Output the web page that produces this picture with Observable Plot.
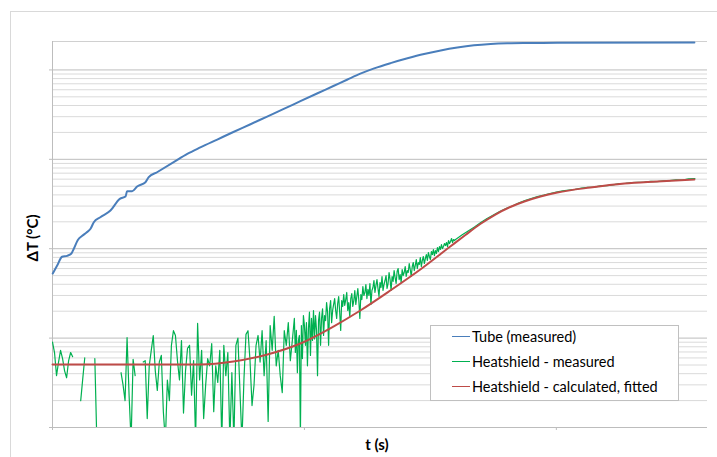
<!DOCTYPE html>
<html><head><meta charset="utf-8">
<script src="https://cdn.jsdelivr.net/npm/d3@7"></script>
<script src="https://cdn.jsdelivr.net/npm/@observablehq/plot@0.6"></script>
<style>
html,body{margin:0;padding:0;background:#fff;}
#wrap{position:relative;width:717px;height:457px;overflow:hidden;font-family:Lato,"Open Sans",sans-serif;}
#border{position:absolute;left:10px;top:11px;width:800px;height:600px;border-top:1px solid #d9d9d9;border-left:1px solid #d9d9d9;}
#chart{position:absolute;left:0;top:0;}
#legend{position:absolute;left:430px;top:325px;width:247px;height:74px;border:1px solid #c0c0c0;background:#fff;}
.item{position:absolute;left:21px;height:20px;display:flex;align-items:center;font-size:14.5px;color:#000;white-space:nowrap;}
.sw{display:inline-block;width:18px;height:0;border-top:1.5px solid;margin-right:2px;}
.title{position:absolute;font-weight:bold;font-size:15px;color:#000;white-space:nowrap;line-height:20px;height:20px;text-align:center;width:120px;}
#ytitle{left:-28px;top:228px;transform:rotate(-90deg);}
#xtitle{left:317px;top:434px;}
</style></head><body>
<div id="wrap"><div id="border"></div><div id="chart"></div><div id="legend"></div>
<div id="ytitle" class="title"></div><div id="xtitle" class="title"></div></div>
<script>
// ---- data ----
const xTitle = "t (s)";
const yTitle = "ΔT (°C)";
const seriesNames = ["Tube (measured)", "Heatshield - measured", "Heatshield - calculated, fitted"];
const seriesColors = ["#4a7ebb", "#00b050", "#be4b48"];

const xTicks = [0, 1000, 2000];
const xDomain = [0, 2600];
const yDomain = [0.01, 208];
const majorGrid = [0.01, 0.1, 1, 10, 100];
const minorGrid = [0.02,0.03,0.04,0.05,0.06,0.07,0.08,0.09,
                   0.2,0.3,0.4,0.5,0.6,0.7,0.8,0.9,
                   2,3,4,5,6,7,8,9,
                   20,30,40,50,60,70,80,90];

// Tube (measured)
const tubeT = [1,18,38,58,75,85,100,118,135,151,164,190,230,267,290,296,316,336,369,382,415,481,535,587,654,718,786,852,918,984,1050,1115,1169,1222,1277,1342,1409,1475,1541,1607,1673,1739,1805,1871,2004,2548];
const tubeV = [0.528,0.644,0.812,0.833,0.884,1.005,1.245,1.394,1.517,1.67,1.98,2.25,2.67,3.61,3.84,4.40,4.40,4.96,5.54,6.31,7.17,9.28,11.5,13.6,16.65,20.2,24.7,30.1,36.6,44.7,54.5,66.1,77.7,90.9,104.2,119.2,134.9,150.6,165.2,178.1,188.5,194.9,198.5,200.0,201.0,202.6];

// Heatshield - calculated, fitted
const fitT = [0,300,587,718,853,984,1115,1222,1341,1460,1579,1639,1698,1758,1817,1873,1937,2004,2135,2270,2401,2548];
const fitV = [0.0507,0.0507,0.0507,0.0547,0.0656,0.0871,0.1348,0.2036,0.3407,0.5853,1.058,1.423,1.889,2.413,2.927,3.373,3.836,4.253,4.837,5.362,5.645,5.943];

// Heatshield - measured (null = not plottable on the log axis)
// part A: every 8 s from t = 0
const measAStart = 0, measAStep = 8;
const measA = [
 0.090,0.069,0.038,0.054,0.073,0.059,0.043,0.036,0.056,0.069,0.062,
 null,null,null,
 0.020,0.035,0.060,
 null,null,null,null,
 0.059,0.007,
 null,null,null,null,null,null,null,null,null,null,null,
 0.041,0.030,0.020,0.101,0.023,0.007,0.058,0.038,
 null,null,null,
 0.054,0.056,0.0126,0.049,0.073,0.107,0.043,0.026,0.054,0.064,0.015,0.007,0.034,0.020,0.083,
 0.121,0.107,0.056,0.034,0.094,0.0145,0.043,0.077,0.083,0.023,0.056,0.007,0.146,0.034,0.073,0.0126,0.030,0.059,0.049,0.087,
 0.015,0.049,0.032,0.073,0.007,0.083,0.038,0.069,0.007,0.041,0.007,0.083,0.100,0.026,0.007,0.035,0.110,0.121,0.056,0.0176,
 0.030,0.083,0.107,0.054,0.121,0.038,0.094,0.0117,0.138,0.073,0.175,0.049,0.073,0.038,0.0246,0.121,0.083,0.149,0.056,0.094
];
// part B: every 4 s from t = 960
const measBStart = 960, measBStep = 4;
const measB = [
 0.166,0.069,0.122,0.041,0.094,0.107,0.008,0.138,0.059,0.179,
 0.138,0.083,0.149,0.049,0.128,0.195,0.064,0.166,0.094,0.203,
 0.098,0.179,0.122,0.038,0.157,0.195,0.083,0.166,0.213,0.107,
 0.179,0.157,0.250,0.193,0.083,0.214,0.263,0.149,0.204,0.238,
 0.277,0.204,0.166,0.244,0.292,0.193,0.122,0.263,0.226,0.307,
 0.232,0.270,0.324,0.204,0.250,0.174,0.277,0.315,0.226,0.263,
 0.341,0.238,0.292,0.359,0.263,0.166,0.307,0.270,0.378,0.300,
 0.324,0.398,0.277,0.350,0.300,0.408,0.238,0.341,0.368,0.441,
 0.324,0.388,0.452,0.359,0.292,0.419,0.368,0.489,0.341,0.398,
 0.441,0.501,0.359,0.408,0.542,0.452,0.341,0.489,0.430,0.570,
 0.476,0.408,0.556,0.600,0.452,0.514,0.419,0.585,0.501,0.542,
 0.632,0.489,0.570,0.542,0.683,0.585,0.489,0.632,0.701,0.570,
 0.649,0.757,0.600,0.701,0.666,0.797,0.632,0.738,0.818,0.683,
 0.777,0.861,0.738,0.907,0.818,0.757,0.930,0.861,0.980,0.839,
 0.955,0.884,1.031,0.930,1.058,0.980,1.114,1.005,1.058,1.143,
 1.086,1.173,1.058,1.235,1.143,1.204,1.301,1.173,1.268,1.235
];
// part C: every 25 s from t = 1600
const measCStart = 1600, measCStep = 25;
const measC = [1.27,1.42,1.58,1.75,1.96,2.18,2.38,2.61,2.82,3.00,3.24,3.46,3.64,3.84,3.98,4.15,4.31,4.43,4.52,4.61,4.76,4.85,4.89,5.04,5.08,5.17,5.34,5.37,5.49,5.52,5.56,5.66,5.63,5.74,5.79,5.89,5.85,6.04,6.10];

// ---- build tables ----
const tube = tubeT.map((t, i) => ({t, v: tubeV[i]}));
const fit = fitT.map((t, i) => ({t, v: fitV[i]}));
const meas = [
  ...measA.map((v, i) => ({t: measAStart + i * measAStep, v})),
  ...measB.map((v, i) => ({t: measBStart + i * measBStep, v})),
  ...measC.map((v, i) => ({t: measCStart + i * measCStep, v}))
];

const chart = Plot.plot({
  width: 717, height: 457,
  marginLeft: 52, marginRight: 10, marginTop: 41, marginBottom: 30,
  style: {fontFamily: "Lato, 'Open Sans', sans-serif", background: "transparent", overflow: "visible", color: "#000"},
  x: {domain: xDomain},
  y: {type: "log", domain: yDomain},
  marks: [
    Plot.ruleY(minorGrid, {stroke: "#dadada", strokeWidth: 1}),
    Plot.ruleY(majorGrid, {stroke: "#bdbdbd", strokeWidth: 1}),
    Plot.ruleY([yDomain[1]], {stroke: "#d0d0d0", strokeWidth: 1}),
    Plot.ruleX([xDomain[0]], {stroke: "#bdbdbd", strokeWidth: 1}),
    Plot.axisY({ticks: majorGrid, tickSize: 3, tickFormat: () => "", stroke: "#bdbdbd", label: null}),
    Plot.axisX({ticks: xTicks, tickSize: 3, tickFormat: () => "", stroke: "#bdbdbd", label: null}),
    Plot.line(tube, {x: "t", y: "v", stroke: seriesColors[0], strokeWidth: 2, curve: "monotone-x"}),
    Plot.line(meas, {x: "t", y: "v", stroke: seriesColors[1], strokeWidth: 1.2, clip: true}),
    Plot.line(fit, {x: "t", y: "v", stroke: seriesColors[2], strokeWidth: 2, curve: "monotone-x"})
  ]
});
document.getElementById("chart").appendChild(chart);

document.getElementById("ytitle").textContent = yTitle;
document.getElementById("xtitle").textContent = xTitle;

const legend = document.getElementById("legend");
seriesNames.forEach((name, i) => {
  const item = document.createElement("div");
  item.className = "item";
  item.style.top = (i * 25) + "px";
  const sw = document.createElement("span");
  sw.className = "sw";
  sw.style.borderTopColor = seriesColors[i];
  item.appendChild(sw);
  item.appendChild(document.createTextNode(name));
  legend.appendChild(item);
});
</script>
</body></html>
